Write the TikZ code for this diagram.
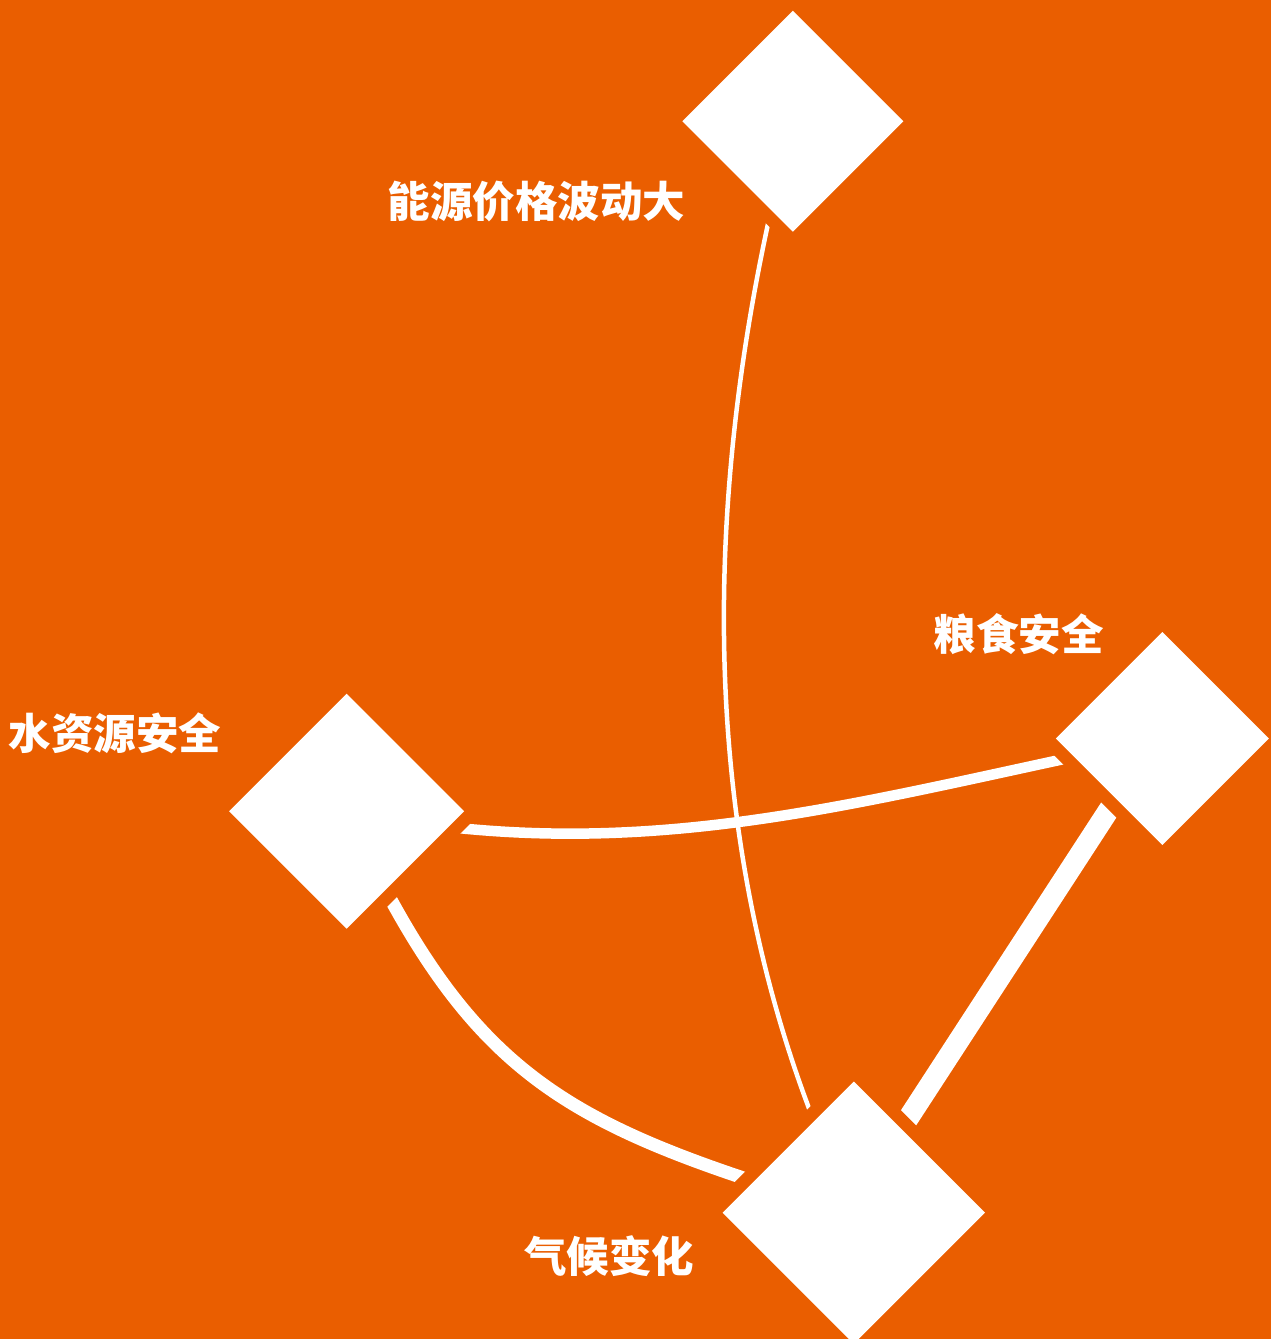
\documentclass[tikz,border=0pt]{standalone}
\usepackage{fontspec}
\newfontfamily\cjk{Noto Sans CJK SC}
\usetikzlibrary{shapes.geometric}
\definecolor{bg}{RGB}{234,94,0}
\tikzset{
  link/.style={draw=white, line cap=butt},
  gem/.style={shape=diamond, aspect=1, inner sep=0pt, outer sep=0pt, fill=white, draw=none},
  gap/.style={shape=diamond, aspect=1, inner sep=0pt, outer sep=0pt, fill=bg, draw=none},
  lbl/.style={text=white, inner sep=0pt, font=\cjk\bfseries\fontsize{42.5}{42.5}\selectfont}
}
\begin{document}
\begin{tikzpicture}[x=1pt,y=-1pt]
\fill[bg] (0,0) rectangle (1271,1339);
\useasboundingbox (0,0) rectangle (1271,1339);
% centres
\coordinate (pE) at (792.8,121.2);
\coordinate (pF) at (1162.3,738.5);
\coordinate (pW) at (346.7,811.2);
\coordinate (pC) at (853.8,1212.7);
% connectors
\draw[link, line width=4.5pt] (pE) .. controls (699.5,471) and (684,862.7) .. (pC);
\draw[link, line width=10.5pt] (pW) .. controls (646.7,871.2) and (862.3,798.5) .. (pF);
\draw[link, line width=13pt] (pW) .. controls (472.7,1084.2) and (565.8,1125.7) .. (pC);
\draw[link, line width=21pt] ([xshift=-7pt]pF) -- ([xshift=-7pt]pC);
% gaps round the diamonds
\node[gap, minimum width=257.8pt, minimum height=257.8pt] (gE) at (pE) {};
\node[gap, minimum width=249.8pt, minimum height=249.8pt] (gF) at (pF) {};
\node[gap, minimum width=271.8pt, minimum height=271.8pt] (gW) at (pW) {};
\node[gap, minimum width=299.2pt, minimum height=299.2pt] (gC) at (pC) {};
% diamonds
\node[gem, minimum width=221pt, minimum height=221pt] (energy) at (pE) {};
\node[gem, minimum width=213pt, minimum height=213pt] (food) at (pF) {};
\node[gem, minimum width=235pt, minimum height=235pt] (water) at (pW) {};
\node[gem, minimum width=262.4pt, minimum height=262.4pt] (climate) at (pC) {};
% labels
\node[lbl] (tE) at (536.5,201) {能源价格波动大};
\node[lbl] (tF) at (1018.5,634) {粮食安全};
\node[lbl] (tW) at (115,733) {水资源安全};
\node[lbl] (tC) at (609,1256) {气候变化};
\end{tikzpicture}
\end{document}
